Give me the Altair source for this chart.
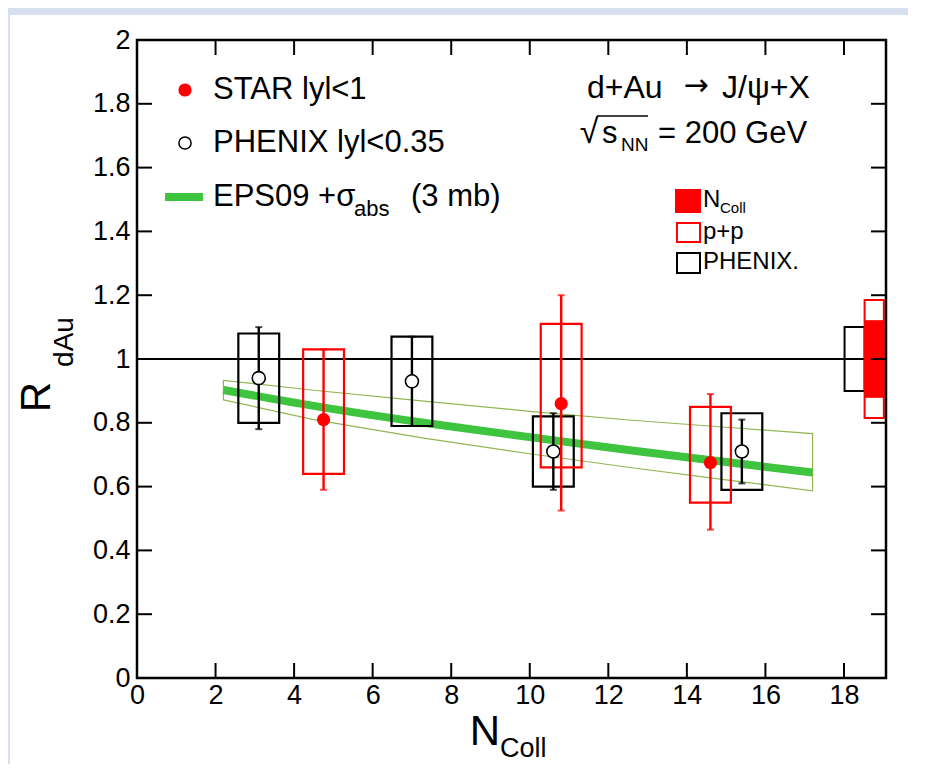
import altair as alt
import pandas as pd

# ---------------- data ----------------
phenix_x = [3.1, 7.0, 10.6, 15.4]
phenix_y = [0.94, 0.93, 0.71, 0.71]
phenix_stat_lo = [0.78, 0.79, 0.59, 0.61]
phenix_stat_hi = [1.10, 1.07, 0.83, 0.81]
phenix_sys_lo = [0.80, 0.79, 0.60, 0.59]
phenix_sys_hi = [1.08, 1.07, 0.82, 0.83]

star_x = [4.75, 10.8, 14.6]
star_y = [0.81, 0.86, 0.675]
star_stat_lo = [0.59, 0.525, 0.465]
star_stat_hi = [1.03, 1.20, 0.89]
star_sys_lo = [0.64, 0.66, 0.55]
star_sys_hi = [1.03, 1.11, 0.85]

eps_x = [2.2, 4.5, 7.3, 10.0, 12.6, 15.0, 17.2]
eps_central = [0.903, 0.853, 0.800, 0.755, 0.713, 0.677, 0.644]
eps_upper = [0.933, 0.902, 0.868, 0.836, 0.808, 0.786, 0.766]
eps_lower = [0.872, 0.810, 0.752, 0.703, 0.659, 0.621, 0.587]

glob_name = ["PHENIX.", "N_Coll", "p+p"]
glob_x = [18.27, 18.77, 18.77]
glob_lo = [0.90, 0.88, 0.815]
glob_hi = [1.10, 1.12, 1.185]

x_ticks = [0, 2, 4, 6, 8, 10, 12, 14, 16, 18]
y_ticks = [0, 0.2, 0.4, 0.6, 0.8, 1.0, 1.2, 1.4, 1.6, 1.8, 2.0]

# ---------------- frames ----------------
W, H = 749, 638
PAD = {"left": 129, "top": 32, "right": 22, "bottom": 86}
RED = "#ff0000"
GREEN = "#3ec43e"
OLIVE = "#93b653"
SLIDE = "#d6e0ef"
FONT = "Liberation Sans"
XDOM = [0, 19.07]
YDOM = [0, 2]
HW = 0.52

phenix = pd.DataFrame(dict(x=phenix_x, y=phenix_y, slo=phenix_stat_lo, shi=phenix_stat_hi,
                           ylo=phenix_sys_lo, yhi=phenix_sys_hi))
star = pd.DataFrame(dict(x=star_x, y=star_y, slo=star_stat_lo, shi=star_stat_hi,
                         ylo=star_sys_lo, yhi=star_sys_hi))
eps = pd.DataFrame(dict(x=eps_x, c=eps_central, u=eps_upper, l=eps_lower))
glob = pd.DataFrame(dict(name=glob_name, x=glob_x, lo=glob_lo, hi=glob_hi))

xs = alt.Scale(domain=XDOM, nice=False, zero=False)
ys = alt.Scale(domain=YDOM, nice=False, zero=False)

AX = alt.Axis(values=x_ticks, ticks=False, domain=False, grid=False, title=None,
              labelFont=FONT, labelFontSize=27, labelColor="black", labelPadding=4,
              labelFlush=False, zindex=2)
AY = alt.Axis(values=y_ticks, ticks=False, domain=False, grid=False, title=None,
              format="~g", labelFont=FONT, labelFontSize=27, labelColor="black",
              labelPadding=7, zindex=2)


def X(f):
    t = "" if ":" in f else ":Q"
    return alt.X(f + t, scale=xs, axis=AX, title=None)


def Y(f):
    t = "" if ":" in f else ":Q"
    return alt.Y(f + t, scale=ys, axis=AY, title=None)


one = pd.DataFrame({"a": [0]})


def box(x1, x2, y1, y2, fill, stroke, sw=2, fo=1):
    return alt.Chart(one).mark_rect(fill=fill, fillOpacity=fo, stroke=stroke, strokeWidth=sw).encode(
        x=alt.value(x1), x2=alt.value(x2), y=alt.value(y1), y2=alt.value(y2))


# light-blue slide border (top strip and left edge)
strip_top = alt.Chart(one).mark_rect(fill=SLIDE).encode(
    x=alt.value(-PAD["left"]), x2=alt.value(W + PAD["right"]),
    y=alt.value(-PAD["top"]), y2=alt.value(-25))
strip_left = alt.Chart(one).mark_rect(fill=SLIDE).encode(
    x=alt.value(-PAD["left"]), x2=alt.value(-127),
    y=alt.value(-PAD["top"]), y2=alt.value(H + PAD["bottom"]))

frame = box(0, W, 0, H, "white", "black", sw=2.5, fo=0)

band = alt.Chart(eps).mark_area(fillOpacity=0, stroke=OLIVE, strokeWidth=1.2).encode(
    x=X("x"), y=Y("l"), y2="u")
central = alt.Chart(eps).mark_line(color=GREEN, strokeWidth=8, interpolate="monotone").encode(
    x=X("x"), y=Y("c"))

unity = alt.Chart(pd.DataFrame({"y": [1.0]})).mark_rule(color="black", strokeWidth=2).encode(
    y=Y("y"))

glob_ph = alt.Chart(glob[glob.name == "PHENIX."]).transform_calculate(
    x1="datum.x - 0.255", x2="datum.x + 0.255").mark_rect(
    fillOpacity=0, stroke="black", strokeWidth=2).encode(
    x=X("x1:Q"), x2="x2:Q", y=Y("lo"), y2="hi")
glob_pp = alt.Chart(glob[glob.name == "p+p"]).transform_calculate(
    x1="datum.x - 0.245", x2="datum.x + 0.245").mark_rect(
    fill="white", stroke=RED, strokeWidth=2).encode(
    x=X("x1:Q"), x2="x2:Q", y=Y("lo"), y2="hi")
glob_nc = alt.Chart(glob[glob.name == "N_Coll"]).transform_calculate(
    x1="datum.x - 0.245", x2="datum.x + 0.245").mark_rect(
    fill=RED, stroke=RED, strokeWidth=1).encode(
    x=X("x1:Q"), x2="x2:Q", y=Y("lo"), y2="hi")


def series(df, color, filled):
    base = alt.Chart(df).transform_calculate(x1=f"datum.x - {HW}", x2=f"datum.x + {HW}")
    bx = base.mark_rect(fillOpacity=0, stroke=color, strokeWidth=2.2).encode(
        x=X("x1:Q"), x2="x2:Q", y=Y("ylo"), y2="yhi")
    err = alt.Chart(df).mark_rule(color=color, strokeWidth=2.4).encode(
        x=X("x"), y=Y("slo"), y2="shi")
    cap_lo = alt.Chart(df).mark_tick(color=color, orient="horizontal", size=7, thickness=2).encode(
        x=X("x"), y=Y("slo"))
    cap_hi = alt.Chart(df).mark_tick(color=color, orient="horizontal", size=7, thickness=2).encode(
        x=X("x"), y=Y("shi"))
    if filled:
        pt = alt.Chart(df).mark_point(filled=True, color=color, size=175, opacity=1).encode(
            x=X("x"), y=Y("y"))
    else:
        pt = alt.Chart(df).mark_point(filled=False, fill="white", fillOpacity=1, stroke="black",
                                      strokeWidth=1.6, size=170, opacity=1).encode(
            x=X("x"), y=Y("y"))
    return [bx, err, cap_lo, cap_hi, pt]


ph_layers = series(phenix, "black", False)
st_layers = series(star, RED, True)

# inward ticks on all four sides, through the scales
TK = 15
xt = pd.DataFrame({"t": x_ticks})
yt = pd.DataFrame({"t": y_ticks})
tick_b = alt.Chart(xt).mark_rule(color="black", strokeWidth=2).encode(
    x=X("t"), y=alt.value(H), y2=alt.value(H - TK))
tick_t = alt.Chart(xt).mark_rule(color="black", strokeWidth=2).encode(
    x=X("t"), y=alt.value(0), y2=alt.value(TK))
tick_l = alt.Chart(yt).mark_rule(color="black", strokeWidth=2).encode(
    y=Y("t"), x=alt.value(0), x2=alt.value(TK))
tick_r = alt.Chart(yt).mark_rule(color="black", strokeWidth=2).encode(
    y=Y("t"), x=alt.value(W), x2=alt.value(W - TK))


def txt(s, x, y, size, align="left", angle=0, baseline="middle", color="black", font=FONT):
    kw = dict(text=s, font=font, fontSize=size, align=align, baseline=baseline, color=color)
    if angle:
        kw["angle"] = angle
    return alt.Chart(one).mark_text(**kw).encode(x=alt.value(x), y=alt.value(y))


annot = [
    # legend 1
    alt.Chart(one).mark_point(filled=True, color=RED, size=175, opacity=1).encode(
        x=alt.value(48), y=alt.value(50)),
    txt("STAR lyl<1", 76, 50, 31),
    alt.Chart(one).mark_point(filled=False, stroke="black", strokeWidth=1.5, size=150, opacity=1).encode(
        x=alt.value(48), y=alt.value(103)),
    txt("PHENIX lyl<0.35", 76, 103, 31),
    alt.Chart(one).mark_rule(color=GREEN, strokeWidth=8).encode(
        x=alt.value(28), x2=alt.value(66), y=alt.value(157)),
    txt("EPS09 +σ", 76, 157, 31),
    txt("abs", 217, 169, 22),
    txt("(3 mb)", 274, 157, 31),
    # top-right label
    txt("d+Au", 450, 48, 32),
    txt("→", 559, 46, 30, align="center", font="DejaVu Sans"),
    txt("J/ψ+X", 585, 48, 32),
    txt("√", 452, 93, 34, align="center"),
    alt.Chart(one).mark_rule(color="black", strokeWidth=1.5).encode(
        x=alt.value(460), x2=alt.value(511), y=alt.value(76)),
    txt("s", 465, 94, 31),
    txt("NN", 484, 105, 19),
    txt("= 200 GeV", 521, 94, 31),
    # legend 2
    box(539, 563, 150, 172, RED, RED),
    txt("N", 566, 160, 24),
    txt("Coll", 583, 168, 15),
    box(540, 563, 183, 202, "white", RED),
    txt("p+p", 566, 192, 24),
    box(540, 563, 213, 233, "white", "black"),
    txt("PHENIX.", 566, 222, 24),
    # axis titles
    txt("R", -100, 357, 42, align="center", angle=270),
    txt("dAu", -72, 302, 28, align="center", angle=270),
    txt("N", 348, 692, 42, align="center"),
    txt("Coll", 363, 709, 27, align="left"),
]

chart = alt.layer(
    strip_top, strip_left, band, central, unity,
    *ph_layers[:1], *st_layers[:1],
    glob_ph, glob_pp, glob_nc,
    *ph_layers[1:], *st_layers[1:],
    tick_b, tick_t, tick_l, tick_r, frame,
    *annot,
).properties(
    width=W, height=H,
    autosize=alt.AutoSizeParams(type="none"),
    padding=PAD,
    background="white",
).configure_view(strokeWidth=0)

chart.save("out.html", embed_options={"renderer": "svg", "actions": False})
